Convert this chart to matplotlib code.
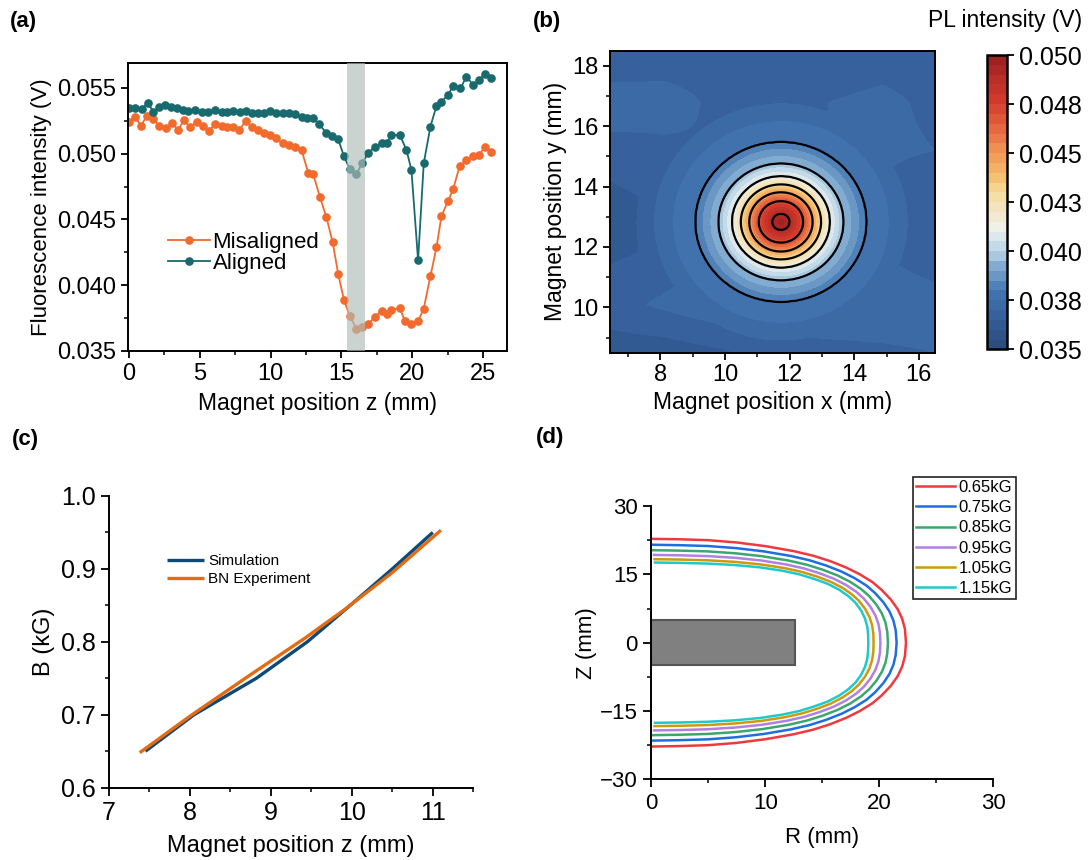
import numpy as np
import matplotlib.pyplot as plt
from matplotlib.colors import LinearSegmentedColormap
from matplotlib.patches import Rectangle
from matplotlib.ticker import MultipleLocator, FixedLocator

plt.rcParams['font.family'] = ['Liberation Sans', 'DejaVu Sans']
plt.rcParams['axes.linewidth'] = 1.4
plt.rcParams['xtick.direction'] = 'out'
plt.rcParams['ytick.direction'] = 'out'

# ---- (a) fluorescence vs magnet position ----
aligned_z = [0.0, 0.42, 0.89, 1.32, 1.72, 2.14, 2.54, 2.96, 3.36, 3.79, 4.19, 4.66, 5.13, 5.6, 6.07,
             6.54, 6.89, 7.36, 7.84, 8.26, 8.66, 9.08, 9.53, 9.95, 10.38, 10.85, 11.32, 11.72, 12.19,
             12.54, 13.01, 13.44, 13.91, 14.31, 14.78, 15.18, 15.6, 16.07, 16.49, 16.89, 17.36, 17.84,
             18.19, 18.54, 19.13, 19.6, 19.95, 20.42, 20.82, 21.29, 21.72, 22.07, 22.54, 22.89, 23.41,
             23.84, 24.31, 24.73, 25.13, 25.6]
aligned_v = [0.05350, 0.05350, 0.05338, 0.05388, 0.05320, 0.05353, 0.05371, 0.05358, 0.05345, 0.05332,
             0.05325, 0.05332, 0.05320, 0.05320, 0.05332, 0.05320, 0.05320, 0.05327, 0.05320, 0.05327,
             0.05312, 0.05312, 0.05307, 0.05327, 0.05312, 0.05312, 0.05307, 0.05302, 0.05282, 0.05269,
             0.05269, 0.05226, 0.05160, 0.05135, 0.05109, 0.04982, 0.04881, 0.04845, 0.04932, 0.05003,
             0.05053, 0.05079, 0.05079, 0.05142, 0.05142, 0.05028, 0.04876, 0.04190, 0.04926, 0.05206,
             0.05363, 0.05396, 0.05447, 0.05515, 0.05497, 0.05586, 0.05523, 0.05561, 0.05607, 0.05574]

misaligned_z = [0.0, 0.42, 0.85, 1.25, 1.72, 2.14, 2.61, 3.01, 3.48, 3.88, 4.31, 4.78, 5.2, 5.67, 6.07,
                6.54, 6.94, 7.36, 7.79, 8.26, 8.66, 9.08, 9.53, 9.95, 10.38, 10.85, 11.32, 11.72, 12.19,
                12.66, 13.01, 13.48, 13.95, 14.38, 14.78, 15.18, 15.6, 16.07, 16.49, 16.89, 17.36, 17.84,
                18.19, 18.54, 19.13, 19.48, 19.95, 20.42, 20.82, 21.29, 21.72, 22.07, 22.54, 22.89, 23.36,
                23.84, 24.31, 24.73, 25.13, 25.6]
misaligned_v = [0.05244, 0.05282, 0.05211, 0.05287, 0.05261, 0.05211, 0.05193, 0.05236, 0.05180, 0.05256,
                0.05201, 0.05244, 0.05211, 0.05175, 0.05226, 0.05211, 0.05206, 0.05201, 0.05180, 0.05251,
                0.05201, 0.05180, 0.05160, 0.05142, 0.05117, 0.05079, 0.05066, 0.05053, 0.05028, 0.04855,
                0.04845, 0.04673, 0.04515, 0.04330, 0.04084, 0.03891, 0.03764, 0.03670, 0.03683, 0.03703,
                0.03759, 0.03805, 0.03784, 0.03810, 0.03830, 0.03728, 0.03703, 0.03728, 0.03822, 0.04069,
                0.04287, 0.04525, 0.04642, 0.04728, 0.04906, 0.04952, 0.04982, 0.04990, 0.05053, 0.05015]
band_z = (15.4, 16.7)

# ---- (b) PL map: radial profile of the peak over a coarse background grid ----
peak_x, peak_y = 11.73, 12.83
profile_r = [0.0, 0.27, 0.69, 0.98, 1.24, 1.51, 1.93, 2.64, 3.2, 3.8, 5.0, 20.0]
profile_v = [0.0497, 0.0490, 0.0470, 0.0448, 0.0428, 0.0410, 0.0395, 0.0380, 0.0376, 0.0371, 0.0360, 0.0350]
bg_x = [6.45, 8.1, 9.8, 11.5, 13.2, 14.9, 16.5]
bg_y = [8.5, 10.1, 11.8, 13.5, 15.2, 16.8, 18.5]
bg_v = [[0.0362, 0.0362, 0.0364, 0.0367, 0.0368, 0.0369, 0.0370],
        [0.0368, 0.0371, 0.0374, 0.0375, 0.0375, 0.0374, 0.0373],
        [0.0364, 0.0366, 0.0371, 0.0372, 0.0372, 0.0370, 0.0366],
        [0.0363, 0.0366, 0.0371, 0.0372, 0.0372, 0.0369, 0.0365],
        [0.0368, 0.0369, 0.0370, 0.0371, 0.0370, 0.0371, 0.0370],
        [0.0373, 0.0372, 0.0369, 0.0369, 0.0370, 0.0371, 0.0369],
        [0.0365, 0.0367, 0.0368, 0.0366, 0.0367, 0.0368, 0.0367]]
contour_levels = [0.0380, 0.0395, 0.0410, 0.0428, 0.0448, 0.0470, 0.0490]
cbar_ticks = [0.035, 0.0375, 0.040, 0.0425, 0.045, 0.0475, 0.050]
cbar_labels = ['0.035', '0.038', '0.040', '0.043', '0.045', '0.048', '0.050']

# ---- (c) field vs position ----
sim_z = [7.45, 8.05, 8.82, 9.45, 9.98, 10.5, 11.0]
sim_b = [0.65, 0.70, 0.75, 0.80, 0.85, 0.90, 0.95]
exp_z = [7.38, 8.0, 8.75, 9.42, 9.92, 10.5, 11.1]
exp_b = [0.648, 0.698, 0.755, 0.805, 0.845, 0.895, 0.953]

# ---- (d) iso-field lines (upper half, lower half is the mirror) ----
iso_labels = ['0.65kG', '0.75kG', '0.85kG', '0.95kG', '1.05kG', '1.15kG']
iso_colors = ['#ee3a3e', '#1f6ee0', '#3aa86e', '#b27fe2', '#cc9a0c', '#1ec9c9']
iso_r = [
    [0.05, 2.5, 5.0, 7.5, 10.0, 12.5, 14.2, 15.7, 17.1, 18.3, 19.4, 20.2, 21.0, 21.6, 22.0, 22.25, 22.34],
    [0.12, 2.5, 4.98, 7.45, 9.88, 12.25, 13.9, 15.35, 16.7, 17.85, 18.88, 19.63, 20.35, 20.89, 21.24, 21.44, 21.52],
    [0.19, 2.5, 4.95, 7.4, 9.76, 12.02, 13.62, 15.03, 16.33, 17.44, 18.39, 19.1, 19.75, 20.23, 20.54, 20.7, 20.76],
    [0.25, 2.5, 4.93, 7.36, 9.66, 11.82, 13.38, 14.75, 16.01, 17.08, 17.97, 18.64, 19.23, 19.66, 19.93, 20.06, 20.1],
    [0.3, 2.5, 4.91, 7.33, 9.57, 11.64, 13.17, 14.5, 15.72, 16.75, 17.59, 18.22, 18.76, 19.15, 19.38, 19.48, 19.5],
    [0.34, 2.5, 4.9, 7.3, 9.5, 11.5, 13.0, 14.3, 15.5, 16.5, 17.3, 17.9, 18.4, 18.75, 18.95, 19.02, 19.04],
]
iso_zz = [
    [22.8, 22.7, 22.5, 22.0, 21.2, 20.1, 19.1, 17.9, 16.5, 15.0, 13.3, 11.6, 9.5, 7.4, 5.3, 3.0, 0.0],
    [21.5, 21.4, 21.22, 20.76, 20.04, 19.03, 18.08, 16.93, 15.6, 14.15, 12.53, 10.9, 8.9, 6.88, 4.85, 2.7, 0.0],
    [20.3, 20.21, 20.04, 19.62, 18.97, 18.04, 17.13, 16.03, 14.77, 13.37, 11.81, 10.26, 8.35, 6.39, 4.44, 2.42, 0.0],
    [19.26, 19.18, 19.01, 18.63, 18.04, 17.18, 16.31, 15.25, 14.05, 12.69, 11.19, 9.7, 7.87, 5.97, 4.08, 2.18, 0.0],
    [18.32, 18.25, 18.09, 17.74, 17.2, 16.4, 15.57, 14.55, 13.4, 12.08, 10.63, 9.19, 7.44, 5.59, 3.75, 1.97, 0.0],
    [17.59, 17.52, 17.37, 17.05, 16.55, 15.8, 15.0, 14.0, 12.9, 11.6, 10.2, 8.8, 7.1, 5.3, 3.5, 1.8, 0.0],
]
magnet_r, magnet_half_h = 12.58, 5.0

fig = plt.figure(figsize=(10.91, 8.6), dpi=100)

# ---------------- (a) ----------------
ax = fig.add_axes([0.1173, 0.5919, 0.3474, 0.3349])
ax.plot(misaligned_z, misaligned_v, '-o', color='#f26a2c', lw=1.3, ms=5.2, label='Misaligned', zorder=2)
ax.plot(aligned_z, aligned_v, '-o', color='#186a6e', lw=1.3, ms=5.2, label='Aligned', zorder=2)
ax.axvspan(*band_z, color='#aebcb8', alpha=0.65, lw=0, zorder=3)
ax.set_xlim(-0.07, 26.7)
ax.set_ylim(0.035, 0.0569)
ax.xaxis.set_major_locator(MultipleLocator(5))
ax.xaxis.set_minor_locator(MultipleLocator(2.5))
ax.yaxis.set_major_locator(MultipleLocator(0.005))
ax.yaxis.set_minor_locator(MultipleLocator(0.0025))
ax.yaxis.set_major_formatter(plt.FormatStrFormatter('%.3f'))
ax.tick_params(which='major', length=5, width=1.3, labelsize=17)
ax.tick_params(which='minor', length=3, width=1.1)
ax.set_xlabel('Magnet position z (mm)', fontsize=16.5, labelpad=5)
ax.set_ylabel('Fluorescence intensity (V)', fontsize=16, labelpad=4)
ax.legend(loc='center left', bbox_to_anchor=(0.106, 0.34), frameon=False, fontsize=16,
          numpoints=1, handlelength=1.9, handletextpad=0.1, labelspacing=0.0,
          borderpad=0, borderaxespad=0)

# ---------------- (b) ----------------
axb = fig.add_axes([0.5594, 0.5899, 0.2977, 0.3512])
gx = np.linspace(6.45, 16.5, 241)
gy = np.linspace(8.5, 18.5, 241)
X, Y = np.meshgrid(gx, gy)
bg_arr = np.array(bg_v)
bg_rows = np.array([np.interp(gx, bg_x, row) for row in bg_arr])
bg = np.array([np.interp(gy, bg_y, bg_rows[:, j]) for j in range(len(gx))]).T
peak = np.interp(np.hypot(X - peak_x, Y - peak_y), profile_r, profile_v)
field = np.maximum(bg, peak)

pl_cmap = LinearSegmentedColormap.from_list('pl', [
    (0.0, '#2a4a7a'), (0.1, '#335e98'), (0.2, '#4677b3'), (0.28, '#80a9d0'),
    (0.333, '#b8d4e6'), (0.407, '#eef1ee'), (0.533, '#f6dc9a'), (0.587, '#f5c070'),
    (0.68, '#ef9052'), (0.76, '#e4623e'), (0.847, '#d33a2c'), (1.0, '#9a1f1f')])
fill_levels = np.linspace(0.035, 0.050, 31)
cf = axb.contourf(X, Y, np.clip(field, 0.035, 0.0499), levels=fill_levels, cmap=pl_cmap)
axb.contour(X, Y, peak, levels=contour_levels, colors='black', linewidths=1.6)
axb.set_xlim(6.45, 16.5)
axb.set_ylim(8.5, 18.5)
axb.xaxis.set_major_locator(MultipleLocator(2))
axb.xaxis.set_minor_locator(MultipleLocator(1))
axb.yaxis.set_major_locator(MultipleLocator(2))
axb.yaxis.set_minor_locator(MultipleLocator(1))
axb.tick_params(which='major', length=5, width=1.3, labelsize=17)
axb.tick_params(which='minor', length=3, width=1.1)
axb.set_xlabel('Magnet position x (mm)', fontsize=16.5, labelpad=3)
axb.set_ylabel('Magnet position y (mm)', fontsize=16.5, labelpad=4)

cax = fig.add_axes([0.9045, 0.5938, 0.0187, 0.3422])
cb = fig.colorbar(cf, cax=cax)
cb.set_ticks(cbar_ticks)
cb.set_ticklabels(cbar_labels)
cb.outline.set_linewidth(1.8)
cax.tick_params(length=5, width=1.3, labelsize=18)
fig.text(1082 / 1091, 1 - 21 / 860, 'PL intensity (V)', ha='right', va='center', fontsize=16.5)

# ---------------- (c) ----------------
axc = fig.add_axes([0.0999, 0.0841, 0.3339, 0.3392])
axc.plot(sim_z, sim_b, color='#0d4a78', lw=2.4, label='Simulation', solid_capstyle='butt')
axc.plot(exp_z, exp_b, color='#e36c12', lw=2.4, label='BN Experiment', solid_capstyle='butt')
axc.set_xlim(7, 11.5)
axc.set_ylim(0.6, 1.0)
axc.spines[['right', 'top']].set_visible(False)
axc.xaxis.set_major_locator(FixedLocator([7, 8, 9, 10, 11]))
axc.xaxis.set_minor_locator(FixedLocator([7.5, 8.5, 9.5, 10.5, 11.5]))
axc.yaxis.set_major_locator(MultipleLocator(0.1))
axc.yaxis.set_minor_locator(MultipleLocator(0.05))
axc.yaxis.set_major_formatter(plt.FormatStrFormatter('%.1f'))
axc.tick_params(which='major', length=6, width=1.3, labelsize=18)
axc.tick_params(which='minor', length=3, width=1.1)
axc.set_xlabel('Magnet position z (mm)', fontsize=17, labelpad=7)
axc.set_ylabel('B (kG)', fontsize=17, labelpad=4)
axc.legend(loc='center left', bbox_to_anchor=(0.159, 0.745), frameon=False, fontsize=11,
           handlelength=2.4, handletextpad=0.3, labelspacing=0.25, borderpad=0, borderaxespad=0)

# ---------------- (d) ----------------
axd = fig.add_axes([0.5968, 0.0938, 0.3137, 0.3178])
axd.add_patch(Rectangle((0, -magnet_half_h), magnet_r, 2 * magnet_half_h,
                        facecolor='#808080', edgecolor='#555555', lw=1.5, zorder=1))
for rr, zz, col, lab in zip(iso_r, iso_zz, iso_colors, iso_labels):
    r_full = rr + rr[-2::-1]
    z_full = zz + [-v for v in zz[-2::-1]]
    axd.plot(r_full, z_full, color=col, lw=1.8, label=lab, zorder=2)
axd.set_xlim(0, 30)
axd.set_ylim(-30, 30)
axd.spines[['right', 'top']].set_visible(False)
axd.xaxis.set_major_locator(MultipleLocator(10))
axd.xaxis.set_minor_locator(MultipleLocator(5))
axd.yaxis.set_major_locator(FixedLocator([-30, -15, 0, 15, 30]))
axd.yaxis.set_minor_locator(FixedLocator([-22.5, -7.5, 7.5, 22.5]))
axd.tick_params(which='major', length=6, width=1.3, labelsize=16)
axd.tick_params(which='minor', length=3, width=1.1)
axd.set_xlabel('R (mm)', fontsize=16, labelpad=10)
axd.set_ylabel('Z (mm)', fontsize=16, labelpad=2)
leg = axd.legend(loc='upper left', bbox_to_anchor=(912.6 / 1091, 1 - 476.7 / 860),
                 bbox_transform=fig.transFigure, fontsize=12, handlelength=2.35,
                 handletextpad=0.2, labelspacing=0.31, borderpad=0.2, borderaxespad=0,
                 fancybox=False, framealpha=1)
leg.get_frame().set_edgecolor('#222222')
leg.get_frame().set_linewidth(1.2)

# panel letters
for x, y, s in [(10, 22, '(a)'), (533, 22, '(b)'), (12, 440, '(c)'), (536, 438, '(d)')]:
    fig.text(x / 1091, 1 - y / 860, s, fontsize=16, fontweight='bold', va='center', ha='left')

fig.savefig('out.png', dpi=100)
